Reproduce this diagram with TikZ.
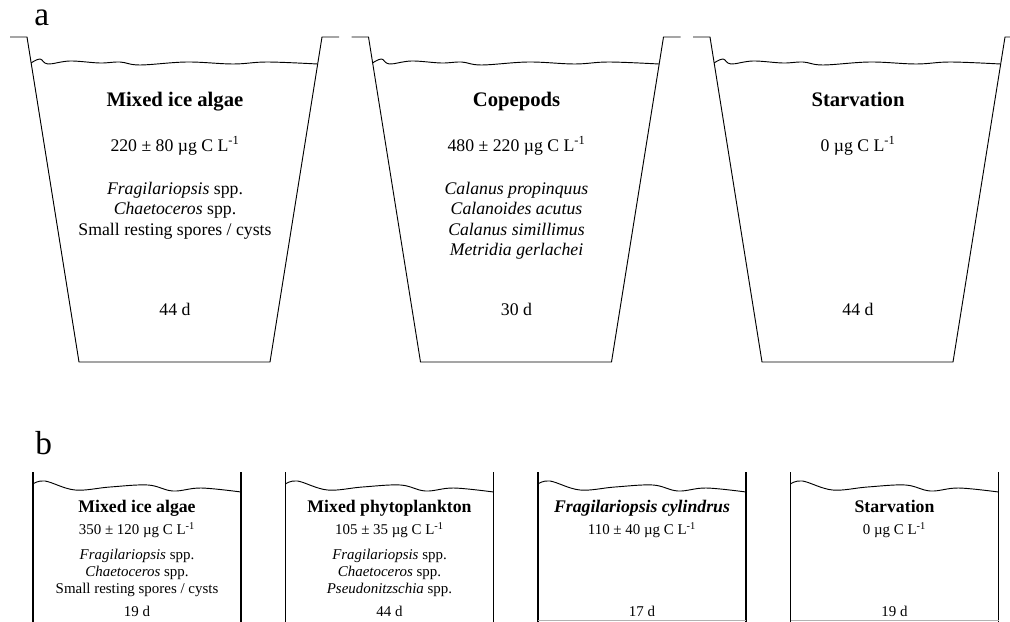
\documentclass[tikz,border=0pt]{standalone}
\usepackage{fontspec}
\setmainfont{Liberation Serif}
\begin{document}
\begin{tikzpicture}[x=0.75pt,y=-0.75pt,
  wall/.style={line width=0.7pt, line join=miter},
  bwall/.style={line width=0.9pt},
  wave/.style={line width=0.7pt},
  txt/.style={inner sep=0pt, text height=0.7em, text depth=0.2em},
  atitle/.style={txt, font=\fontsize{15.5}{18}\selectfont\bfseries},
  atext/.style={txt, font=\fontsize{13.3}{16}\selectfont},
  btitle/.style={txt, font=\fontsize{13.3}{16}\selectfont\bfseries},
  btext/.style={txt, font=\fontsize{11.2}{13}\selectfont},
  panellabel/.style={font=\fontsize{25}{28}\selectfont, inner sep=0pt, anchor=base west}]
\useasboundingbox (0,0) rectangle (1010,621);

% ---------- panel a ----------
\node[panellabel] (la) at (34,25) {a};
\foreach \L in {27,368.5,710}{
  \draw[wall] (\L-17,37) -- (\L,37) -- (\L+52,362) -- (\L+243,362) -- (\L+295,37) -- (\L+312,37);
  \draw[wave] plot[smooth, tension=0.6] coordinates {(\L+4,63) (\L+13,59) (\L+21,64) (\L+43,61) (\L+73,63) (\L+93,62) (\L+113,65) (\L+160,62) (\L+206,64) (\L+240,62) (\L+290.5,64)};
}
% bucket 1
\node[atitle] (a1t) at (175,103) {Mixed ice algae};
\node[atext] (a1c) at (175,148) {220 ± 80 µg C L\textsuperscript{-1}};
\node[atext] (a1s1) at (175,191) {\textit{Fragilariopsis} spp.};
\node[atext] (a1s2) at (175,211.5) {\textit{Chaetoceros} spp.};
\node[atext] (a1s3) at (175,232) {Small resting spores / cysts};
\node[atext] (a1d) at (175,312) {44 d};
% bucket 2
\node[atitle] (a2t) at (516.5,103) {Copepods};
\node[atext] (a2c) at (516.5,148) {480 ± 220 µg C L\textsuperscript{-1}};
\node[atext] (a2s1) at (516.5,191) {\textit{Calanus propinquus}};
\node[atext] (a2s2) at (516.5,211.5) {\textit{Calanoides acutus}};
\node[atext] (a2s3) at (516.5,232) {\textit{Calanus simillimus}};
\node[atext] (a2s4) at (516.5,252.5) {\textit{Metridia gerlachei}};
\node[atext] (a2d) at (516.5,312) {30 d};
% bucket 3
\node[atitle] (a3t) at (858,103) {Starvation};
\node[atext] (a3c) at (858,148) {0 µg C L\textsuperscript{-1}};
\node[atext] (a3d) at (858,312) {44 d};

% ---------- panel b ----------
\node[panellabel] (lb) at (35,454) {b};
\foreach \L in {33,285.5,538,790.5}{
  \draw[bwall] (\L,472) -- (\L,622);
  \draw[bwall] (\L+208,472) -- (\L+208,622);
  \draw[wave] plot[smooth, tension=0.6] coordinates {(\L,484) (\L+12,481) (\L+42,490) (\L+77,487) (\L+115,485) (\L+140,491) (\L+168,488) (\L+208,492)};
}
\draw[line width=0.7pt, black!30] (538,620) -- (746,620);
\draw[line width=0.7pt, black!30] (790.5,620) -- (998.5,620);
% box 1
\node[btitle] (b1t) at (137,509) {Mixed ice algae};
\node[btext] (b1c) at (137,531.5) {350 ± 120 µg C L\textsuperscript{-1}};
\node[btext] (b1s1) at (137,556) {\textit{Fragilariopsis} spp.};
\node[btext] (b1s2) at (137,573) {\textit{Chaetoceros} spp.};
\node[btext] (b1s3) at (137,590.5) {Small resting spores / cysts};
\node[btext] (b1d) at (137,613) {19 d};
% box 2
\node[btitle] (b2t) at (389.5,509) {Mixed phytoplankton};
\node[btext] (b2c) at (389.5,531.5) {105 ± 35 µg C L\textsuperscript{-1}};
\node[btext] (b2s1) at (389.5,556) {\textit{Fragilariopsis} spp.};
\node[btext] (b2s2) at (389.5,573) {\textit{Chaetoceros} spp.};
\node[btext] (b2s3) at (389.5,590.5) {\textit{Pseudonitzschia} spp.};
\node[btext] (b2d) at (389.5,613) {44 d};
% box 3
\node[btitle] (b3t) at (642,509) {\textit{Fragilariopsis cylindrus}};
\node[btext] (b3c) at (642,531.5) {110 ± 40 µg C L\textsuperscript{-1}};
\node[btext] (b3d) at (642,613) {17 d};
% box 4
\node[btitle] (b4t) at (894.5,509) {Starvation};
\node[btext] (b4c) at (894.5,531.5) {0 µg C L\textsuperscript{-1}};
\node[btext] (b4d) at (894.5,613) {19 d};
\end{tikzpicture}
\end{document}
